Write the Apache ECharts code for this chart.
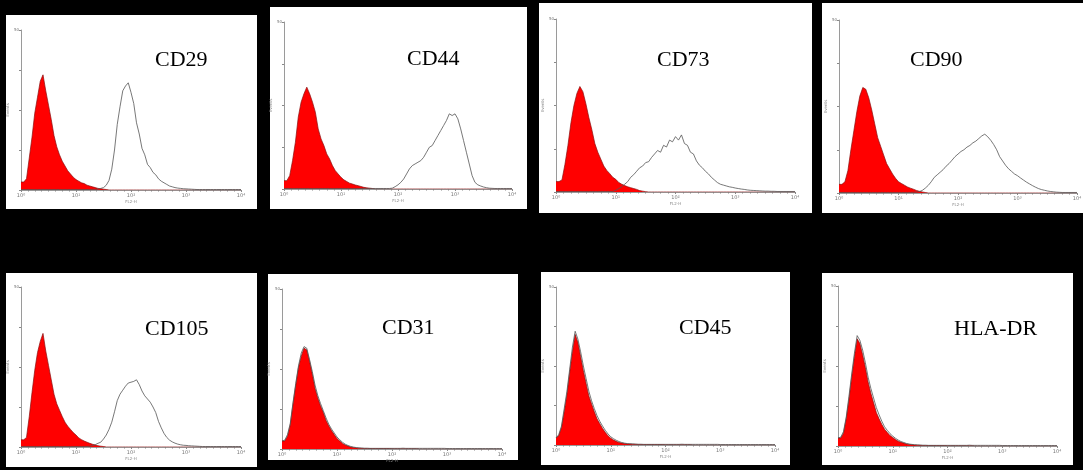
<!DOCTYPE html>
<html>
<head>
<meta charset="utf-8">
<script src="https://cdn.jsdelivr.net/npm/echarts@6/dist/echarts.min.js"></script>
<style>
html,body{margin:0;padding:0;background:#000;}
#c{width:1083px;height:470px;}
</style>
</head>
<body>
<div id="c"></div>
<script>
// ---------- DATA ----------
const panels = ['CD29','CD44','CD73','CD90','CD105','CD31','CD45','HLA-DR'];
const xTickLabels = ['10\u2070','10\u00b9','10\u00b2','10\u00b3','10\u2074'];
const xAxisName = 'FL2-H';
const yAxisName = 'Events';
const yTopLabel = '50';
// fluorescence bins, log10 decades
const bins = [
 0,0.05,0.1,0.15,0.2,0.25,0.3,0.35,0.4,0.45,0.5,0.55,0.6,0.65,0.7,0.75,0.8,0.85,0.9,0.95,
 1,1.05,1.1,1.15,1.2,1.25,1.3,1.35,1.4,1.45,1.5,1.55,1.6,1.65,1.7,1.75,1.8,1.85,1.9,1.95,
 2,2.05,2.1,2.15,2.2,2.25,2.3,2.35,2.4,2.45,2.5,2.55,2.6,2.65,2.7,2.75,2.8,2.85,2.9,2.95,
 3,3.05,3.1,3.15,3.2,3.25,3.3,3.35,3.4,3.45,3.5,3.55,3.6,3.65,3.7,3.75,3.8,3.85,3.9,3.95,4];

// isotype control (red, filled) and antibody (open line), % of axis height
const cd29Iso = [
 5,5,7,20,33,48,58,68,72,62,53,44,34,27,22,18,15,12,10,8,
 6.5,5.5,4.5,4,3,2.5,2,1.5,1,0.8,0.5,0.3,0,0,0,0,0,0,0,0,
 0,0,0,0,0,0,0,0,0,0,0,0,0,0,0,0,0,0,0,0,
 0,0,0,0,0,0,0,0,0,0,0,0,0,0,0,0,0,0,0,0,0];
const cd29Ab = [
 0.3,0.3,0.3,0.3,0.3,0.3,0.3,0.3,0.3,0.3,0.3,0.3,0.3,0.3,0.3,0.3,0.3,0.3,0.3,0.3,
 0.3,0.3,0.3,0.3,0.3,0.3,0.4,0.4,0.5,1,1.5,3,6,13,25,41,52,62,65,67,
 61,54,42,35,26,22,16,14,11,9.5,7,5.5,4.5,3.5,2.5,2,1.5,1.2,1,0.8,
 0.7,0.6,0.5,0.4,0.3,0.3,0.3,0.3,0.3,0.3,0.3,0.3,0.3,0.3,0.3,0.3,0.3,0.3,0.3,0.3,0.3];

const cd44Iso = [
 5,5,8,17,28,43,52,57,61,57,52,46,36,30,26,21,18,14,11,9,
 7,5.5,4.5,3.5,3,2.4,2,1.5,1,0.7,0.5,0.3,0,0,0,0,0,0,0,0,
 0,0,0,0,0,0,0,0,0,0,0,0,0,0,0,0,0,0,0,0,
 0,0,0,0,0,0,0,0,0,0,0,0,0,0,0,0,0,0,0,0,0];
const cd44Ab = [
 0.3,0.3,0.3,0.3,0.3,0.3,0.3,0.3,0.3,0.3,0.3,0.3,0.3,0.3,0.3,0.3,0.3,0.3,0.3,0.3,
 0.3,0.3,0.3,0.3,0.3,0.3,0.3,0.3,0.3,0.3,0.3,0.3,0.3,0.3,0.3,0.3,0.3,0.3,0.5,1.4,
 2.5,4,6,9,12,14,15,16,17,19,22,25,26,29,32,35,38,41,45,44,
 45,42,36,29,22,15,8,4,2.5,1.8,1.2,0.8,0.5,0.4,0.3,0.3,0.3,0.3,0.3,0.3,0.3];

const cd73Iso = [
 6,6,7,16,27,40,50,57,61,58,51,43,36,28,23,19,15,12.5,10.6,8.5,
 7.3,5.5,4.5,3.7,3,2.5,2,1.5,0.8,0.5,0.2,0,0,0,0,0,0,0,0,0,
 0,0,0,0,0,0,0,0,0,0,0,0,0,0,0,0,0,0,0,0,
 0,0,0,0,0,0,0,0,0,0,0,0,0,0,0,0,0,0,0,0,0];
const cd73Ab = [
 0.3,0.3,0.3,0.3,0.3,0.3,0.3,0.3,0.3,0.3,0.3,0.3,0.3,0.3,0.3,0.3,0.3,0.3,0.3,0.3,
 1,2,3,4.5,6,8.5,10,12,14,15,17,17.5,20,22,24,23,27,26,30,29,
 32,30,33,28,27,23,22,18,15.5,14,12,10.5,8.5,7,5.5,4.5,4,3.5,3,2.7,
 2.3,2,1.7,1.5,1.2,1,0.9,0.8,0.7,0.6,0.5,0.5,0.4,0.4,0.3,0.3,0.3,0.3,0.3,0.3,0.3];

const cd90Iso = [
 5,5,6.5,13,25,36,47,56,61,60,55,48,40,32,27,22,17,14,11,8.5,
 6.5,5.5,4.5,3.5,2.8,2.2,1.5,1,0.6,0.3,0,0,0,0,0,0,0,0,0,0,
 0,0,0,0,0,0,0,0,0,0,0,0,0,0,0,0,0,0,0,0,
 0,0,0,0,0,0,0,0,0,0,0,0,0,0,0,0,0,0,0,0,0];
const cd90Ab = [
 0.3,0.3,0.3,0.3,0.3,0.3,0.3,0.3,0.3,0.3,0.3,0.3,0.3,0.3,0.3,0.3,0.3,0.3,0.3,0.3,
 0.3,0.3,0.3,0.3,0.3,0.4,0.5,0.8,1.5,2.8,4.4,6.5,9,10.5,12,13.5,15.5,17,19,21,
 22.5,24,25,26.5,27.5,29,30,31.5,33,34,32.5,30.5,28,25,21,18.5,16,14,12.5,11,
 10,8.7,7.5,6.3,5.3,4.3,3.4,2.6,2,1.6,1.2,0.9,0.7,0.5,0.4,0.3,0.3,0.3,0.3,0.3,0.3];

const cd105Iso = [
 4.5,4.5,6,19,34,48,59,66,71,60,51,42,33,27,23,19,15.5,13,11,9,
 7.5,5.7,4.6,3.7,3,2.3,1.7,1.2,0.8,0.5,0.3,0,0,0,0,0,0,0,0,0,
 0,0,0,0,0,0,0,0,0,0,0,0,0,0,0,0,0,0,0,0,
 0,0,0,0,0,0,0,0,0,0,0,0,0,0,0,0,0,0,0,0,0];
const cd105Ab = [
 0.3,0.3,0.3,0.3,0.3,0.3,0.3,0.3,0.3,0.3,0.3,0.3,0.3,0.3,0.3,0.3,0.3,0.3,0.3,0.3,
 0.3,0.3,0.3,0.3,0.3,0.5,0.9,1.5,2.3,3,5,7.5,11,15.5,22,29,33,35.5,38,40,
 40.5,41,42,39,35,32,30,28,25,21.5,16,12,8.5,6,4.3,3.2,2.4,1.8,1.4,1.1,
 1,0.8,0.7,0.6,0.5,0.4,0.3,0.3,0.3,0.3,0.3,0.3,0.3,0.3,0.3,0.3,0.3,0.3,0.3,0.3,0.3];

const cd31Iso = [
 5,5,8,15,28,40,51,58,63,62,55,47,38,32,27,23,18,14.5,11.5,9,
 6.5,5,3.5,2.5,1.8,1.2,0.9,0.7,0.5,0.4,0.3,0.3,0.3,0.3,0.3,0.3,0.3,0.3,0.3,0.3,
 0.2,0.2,0.2,0.2,0.2,0.2,0.2,0.2,0.2,0.2,0,0,0,0,0,0,0,0,0,0,
 0,0,0,0,0,0,0,0,0,0,0,0,0,0,0,0,0,0,0,0,0];
const cd31Ab = [
 5,5.5,9,16,29,41,52,60,64,63,56,48.5,40,33.5,28.5,24,19.5,15.5,12.5,10,
 7.5,5.8,4.2,3,2.2,1.6,1.2,0.9,0.7,0.6,0.5,0.5,0.4,0.4,0.4,0.4,0.4,0.4,0.4,0.4,
 0.4,0.4,0.4,0.4,0.5,0.4,0.4,0.4,0.4,0.4,0.4,0.4,0.4,0.4,0.4,0.4,0.4,0.4,0.4,0.4,
 0.3,0.3,0.3,0.3,0.3,0.3,0.3,0.3,0.3,0.3,0.3,0.3,0.3,0.3,0.3,0.3,0.3,0.3,0.3,0.3,0.3];

const cd45Iso = [
 4.5,6,11,21,32,46,59,70,65,56,47,39,31,26,21,16.5,13.5,10.5,8,5.8,
 4.3,3.2,2.3,1.6,1.2,0.9,0.7,0.6,0.5,0.4,0.3,0.3,0.3,0.3,0.3,0.3,0.3,0.3,0.3,0.3,
 0.2,0.2,0.2,0.2,0.2,0.2,0.2,0.2,0.2,0.2,0,0,0,0,0,0,0,0,0,0,
 0,0,0,0,0,0,0,0,0,0,0,0,0,0,0,0,0,0,0,0,0];
const cd45Ab = [
 4.5,6.5,12,23,34,48,62,72,67,59,50,42,34,28,23,18.5,15,12,9.3,7,
 5.2,4,3,2.2,1.6,1.2,0.9,0.8,0.7,0.6,0.5,0.5,0.4,0.4,0.4,0.4,0.4,0.4,0.4,0.4,
 0.4,0.4,0.4,0.4,0.4,0.4,0.5,0.4,0.4,0.4,0.4,0.4,0.4,0.4,0.4,0.4,0.4,0.4,0.4,0.4,
 0.3,0.3,0.3,0.3,0.3,0.3,0.3,0.3,0.3,0.3,0.3,0.3,0.3,0.3,0.3,0.3,0.3,0.3,0.3,0.3,0.3];

const hladrIso = [
 5,5,8,17,29,43,56,67,64,57,49,40,33,27,21,17,13.5,10.5,8.5,6.5,
 5.3,4,3,2.3,1.8,1.3,1,0.8,0.6,0.5,0.4,0.3,0.3,0.3,0.3,0.3,0.3,0.3,0.3,0.3,
 0.2,0.2,0.2,0.2,0.2,0.2,0.2,0.2,0.2,0.2,0,0,0,0,0,0,0,0,0,0,
 0,0,0,0,0,0,0,0,0,0,0,0,0,0,0,0,0,0,0,0,0];
const hladrAb = [
 5,5.5,9,18,31,45,58,69,66,60,52,43,36,30,24,19.5,15.5,12,9.8,7.7,
 6.2,4.8,3.7,2.8,2.2,1.6,1.2,1,0.8,0.7,0.6,0.5,0.5,0.4,0.4,0.4,0.4,0.4,0.4,0.4,
 0.4,0.4,0.4,0.4,0.4,0.4,0.4,0.4,0.5,0.4,0.4,0.4,0.4,0.4,0.4,0.4,0.4,0.4,0.4,0.4,
 0.3,0.3,0.3,0.3,0.3,0.3,0.3,0.3,0.3,0.3,0.3,0.3,0.3,0.3,0.3,0.3,0.3,0.3,0.3,0.3,0.3];

const isoSeries = [cd29Iso, cd44Iso, cd73Iso, cd90Iso, cd105Iso, cd31Iso, cd45Iso, hladrIso];
const abSeries  = [cd29Ab,  cd44Ab,  cd73Ab,  cd90Ab,  cd105Ab,  cd31Ab,  cd45Ab,  hladrAb];

// ---------- LAYOUT ----------
const boxes = [
 [6,15,251,194],[270,7,257,202],[539,3,273,210],[822,3,261,210],
 [6,273,251,194],[268,274,250,186],[541,272,249,193],[822,273,251,192]];
const grids = [
 [21,30,220,160],[284,22,228,167],[556,19,239,173],[839,20,238,173],
 [21,287,220,160],[282,289,220,160],[556,287,219,158],[838,286,219,160]];
const titlePos = [
 [155,49],[407,48],[657,49],[910,49],
 [145,318],[382,317],[679,317],[954,318]];

const option = {
  backgroundColor: '#000',
  animation: false,
  title: panels.map((p, i) => ({
    text: p, left: titlePos[i][0], top: titlePos[i][1], padding: 0,
    textStyle: { fontFamily: 'Liberation Serif', fontSize: 22, fontWeight: 'normal', color: '#000' }
  })),
  graphic: boxes.map(b => ({
    type: 'rect', z: -10, silent: true,
    shape: { x: b[0], y: b[1], width: b[2], height: b[3] },
    style: { fill: '#fff' }
  })),
  grid: grids.map(g => ({ left: g[0], top: g[1], width: g[2], height: g[3], containLabel: false, outerBoundsMode: 'none' })),
  xAxis: grids.map((g, i) => ({
    gridIndex: i, type: 'value', min: 0, max: 4, interval: 1,
    axisLine: { show: true, onZero: false, lineStyle: { color: '#9a9a9a', width: 1 } },
    axisTick: { show: true, length: 2, lineStyle: { color: '#888' } },
    minorTick: { show: true, splitNumber: 8, length: 1.5, lineStyle: { color: '#888' } },
    splitLine: { show: false },
    axisLabel: { fontSize: 5, color: '#777', margin: 3, fontFamily: 'DejaVu Sans',
      formatter: v => xTickLabels[Math.round(v)] },
    name: xAxisName, nameLocation: 'middle', nameGap: 10,
    nameTextStyle: { fontSize: 4, color: '#888', fontFamily: 'DejaVu Sans' }
  })),
  yAxis: grids.map((g, i) => ({
    gridIndex: i, type: 'value', min: 0, max: 100, interval: 25,
    axisLine: { show: true, lineStyle: { color: '#9a9a9a', width: 1 } },
    axisTick: { show: true, length: 2, lineStyle: { color: '#888' } },
    splitLine: { show: false },
    axisLabel: { fontSize: 4, color: '#777', margin: 2, fontFamily: 'DejaVu Sans',
      formatter: v => (v === 100 ? yTopLabel : '') },
    name: yAxisName, nameLocation: 'middle', nameGap: 6, nameRotate: 90,
    nameTextStyle: { fontSize: 4, color: '#888', fontFamily: 'DejaVu Sans' }
  })),
  series: []
};

panels.forEach((p, i) => {
  option.series.push({
    type: 'line', xAxisIndex: i, yAxisIndex: i, symbol: 'none', z: 2,
    data: bins.map((b, k) => [b, isoSeries[i][k]]),
    lineStyle: { color: '#8a1010', width: 0.7 },
    areaStyle: { color: '#ff0000', opacity: 1 }
  });
  option.series.push({
    type: 'line', xAxisIndex: i, yAxisIndex: i, symbol: 'none', z: 3,
    data: bins.map((b, k) => [b, abSeries[i][k]]),
    lineStyle: { color: '#555', width: 0.8 }
  });
});

const chart = echarts.init(document.getElementById('c'), null, { renderer: 'canvas' });
chart.setOption(option);
</script>
</body>
</html>
